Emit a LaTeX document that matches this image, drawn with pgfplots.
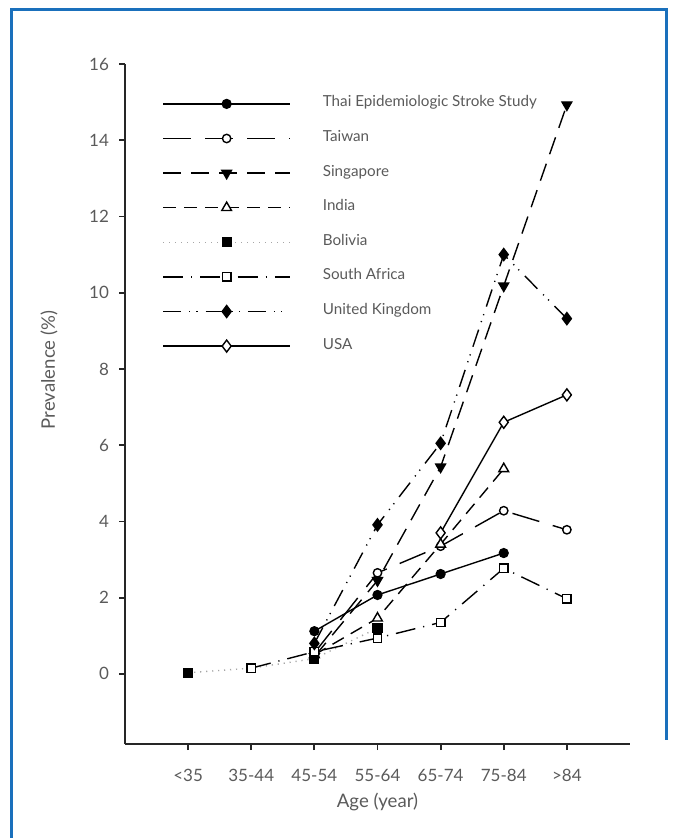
\documentclass[border=0pt]{standalone}
\usepackage{fontspec}
\setmainfont{Lato}
\usepackage{pgfplots}
\pgfplotsset{compat=1.18}
\definecolor{framecol}{RGB}{26,112,188}
\definecolor{txt}{RGB}{90,90,90}

\begin{document}
\begin{tikzpicture}
% page area and blue frame
\path[use as bounding box] (0,0) rectangle (337pt,-419pt);
\draw[framecol, line width=1.5pt] (5.75pt,-419pt) -- (5.75pt,-5pt) -- (333pt,-5pt) -- (333pt,-370pt);

\begin{axis}[
  at={(62.5pt,-372pt)}, anchor=south west,
  scale only axis, width=252.5pt, height=340pt,
  xmin=-1, xmax=7, ymin=-1.84, ymax=16,
  axis x line*=bottom, axis y line*=left,
  axis line style={line width=0.9pt, black!85},
  every tick/.style={line width=0.9pt, black!85},
  tick align=outside, major tick length=3pt,
  xtick={0,1,2,3,4,5,6},
  xticklabels={<35,35-44,45-54,55-64,65-74,75-84,>84},
  ytick={0,2,...,16},
  /pgf/number format/assume math mode=true,
  tick label style={font=\fontsize{8.5}{10}\selectfont, text=txt},
  yticklabel style={xshift=-1.5pt},
  xticklabel style={yshift=-6pt},
  xlabel={Age (year)}, ylabel={Prevalence (\%)},
  every axis x label/.style={at={(rel axis cs:0.5,0)}, yshift=-29pt, anchor=center,
    font=\fontsize{9.3}{11}\selectfont, text=txt},
  every axis y label/.style={at={(rel axis cs:0,0.55)}, xshift=-38pt, rotate=90, anchor=center,
    font=\fontsize{9.3}{11}\selectfont, text=txt},
  clip=false,
  legend image code/.code={\draw[#1, mark repeat=2, mark phase=2] plot coordinates {(0pt,0pt) (31.75pt,0pt) (63.5pt,0pt)};},
  legend style={at={(axis cs:-0.413,15.2)}, anchor=north west, draw=none, fill=none,
    font=\fontsize{7.6}{9}\selectfont, text=txt, inner sep=0pt,
    row sep=8.3pt, cells={anchor=west},
    nodes={inner sep=0pt, text height=6pt, text depth=3pt},
    /tikz/every odd column/.style={column sep=16pt}},
  every axis plot/.append style={line width=0.7pt, black},
  legend cell align=left,
]
% Thai Epidemiologic Stroke Study
\addplot[solid, mark=*, mark size=2.2pt, mark options={solid, fill=black}]
  coordinates {(2,1.12) (3,2.07) (4,2.62) (5,3.17)};
\addlegendentry{Thai Epidemiologic Stroke Study}
% Taiwan
\addplot[dash pattern=on 14pt off 7pt, mark=*, mark size=2.1pt, mark options={solid, fill=white}]
  coordinates {(2,0.55) (3,2.65) (4,3.35) (5,4.28) (6,3.78)};
\addlegendentry{Taiwan}
% Singapore
\addplot[dash pattern=on 9pt off 5pt, mark=triangle*, mark size=2.8pt, mark options={solid, fill=black, rotate=180}]
  coordinates {(2,0.45) (3,2.45) (4,5.43) (5,10.18) (6,14.93)};
\addlegendentry{Singapore}
% India
\addplot[dash pattern=on 6.5pt off 4pt, mark=triangle*, mark size=2.8pt, mark options={solid, fill=white}]
  coordinates {(2,0.5) (3,1.46) (4,3.4) (5,5.38)};
\addlegendentry{India}
% Bolivia
\addplot[draw=black!35, dash pattern=on 0.6pt off 2.4pt, mark=square*, mark size=2.2pt, mark options={solid, draw=black, fill=black}]
  coordinates {(0,0.03) (1,0.15) (2,0.4) (3,1.2)};
\addlegendentry{Bolivia}
% South Africa
\addplot[dash pattern=on 10pt off 4pt on 0.6pt off 4pt, mark=square*, mark size=2.1pt, mark options={solid, fill=white}]
  coordinates {(1,0.15) (2,0.58) (3,0.94) (4,1.35) (5,2.77) (6,1.97)};
\addlegendentry{South Africa}
% United Kingdom
\addplot[dash pattern=on 9pt off 4pt on 0.6pt off 3pt on 0.6pt off 4pt, mark=diamond*, mark size=3pt, mark options={solid, fill=black}]
  coordinates {(2,0.8) (3,3.91) (4,6.05) (5,11.0) (6,9.32)};
\addlegendentry{United Kingdom}
% USA
\addplot[solid, mark=diamond*, mark size=3pt, mark options={solid, fill=white}]
  coordinates {(4,3.7) (5,6.6) (6,7.32)};
\addlegendentry{USA}
\end{axis}
\end{tikzpicture}
\end{document}
